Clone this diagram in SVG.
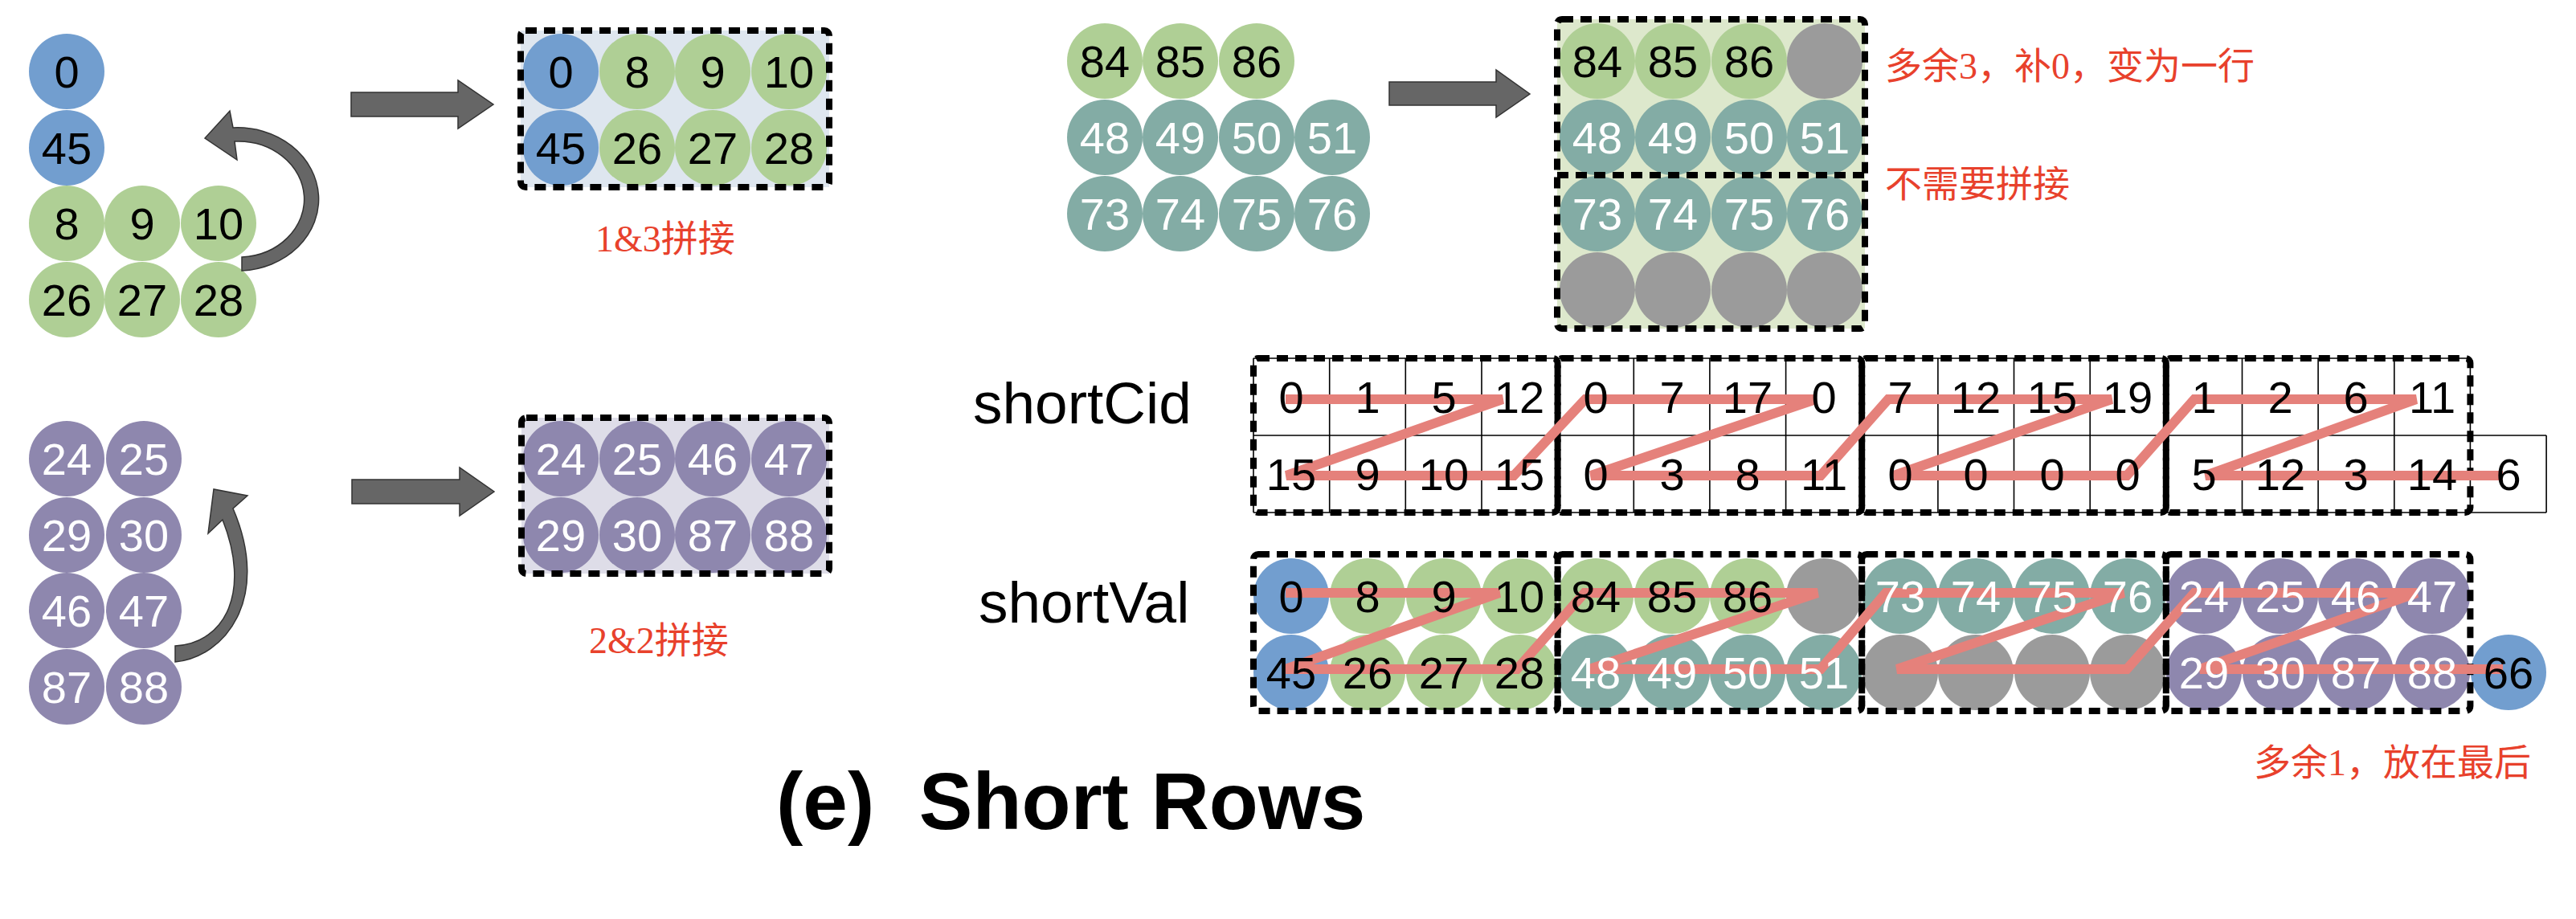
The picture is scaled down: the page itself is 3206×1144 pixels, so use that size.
<svg xmlns="http://www.w3.org/2000/svg" width="3206" height="1144" viewBox="0 0 3206 1144">
<style>
.blue{fill:#729ecf}.green{fill:#afcf95}.teal{fill:#83aca5}.purple{fill:#8e87ae}.gray{fill:#9b9b9b}
text{font-family:"Liberation Sans",Arial,sans-serif}
.n{font-size:56px;text-anchor:middle;fill:#000}
.w{fill:#fff}
.dash{fill:none;stroke:#000;stroke-width:8;stroke-dasharray:14 9}
.grid{stroke:#000;stroke-width:1.6;fill:none}
.zig{fill:none;stroke:#e5817b;stroke-width:12;stroke-linejoin:miter;stroke-miterlimit:3}
.big{fill:#666;stroke:#333;stroke-width:1.5}
.red{font-family:"Liberation Serif","Noto Sans CJK SC",serif;font-size:46px;fill:#e8412c}
.lbl{font-size:73px;fill:#000}
</style>

<!-- source 1&3 -->
<g id="src-13">
<circle class="blue" cx="83" cy="89" r="47"/><circle class="blue" cx="83" cy="184" r="47"/>
<circle class="green" cx="83" cy="278" r="47"/><circle class="green" cx="177" cy="278" r="47"/><circle class="green" cx="272" cy="278" r="47"/>
<circle class="green" cx="83" cy="373" r="47"/><circle class="green" cx="177" cy="373" r="47"/><circle class="green" cx="272" cy="373" r="47"/>
<text class="n" x="83" y="109">0</text><text class="n" x="83" y="204">45</text>
<text class="n" x="83" y="298">8</text><text class="n" x="177" y="298">9</text><text class="n" x="272" y="298">10</text>
<text class="n" x="83" y="393">26</text><text class="n" x="177" y="393">27</text><text class="n" x="272" y="393">28</text>
</g>

<g id="merged-13">
<rect x="648" y="38" width="384" height="195" fill="#dee6ef"/>
<circle class="blue" cx="698" cy="89" r="47"/><circle class="green" cx="793" cy="89" r="47"/><circle class="green" cx="887" cy="89" r="47"/><circle class="green" cx="982" cy="89" r="47"/>
<circle class="blue" cx="698" cy="184" r="47"/><circle class="green" cx="793" cy="184" r="47"/><circle class="green" cx="887" cy="184" r="47"/><circle class="green" cx="982" cy="184" r="47"/>
<text class="n" x="698" y="109">0</text><text class="n" x="793" y="109">8</text><text class="n" x="887" y="109">9</text><text class="n" x="982" y="109">10</text>
<text class="n" x="698" y="204">45</text><text class="n" x="793" y="204">26</text><text class="n" x="887" y="204">27</text><text class="n" x="982" y="204">28</text>
<rect class="dash" x="648" y="38" width="384" height="195" rx="6"/>
<text class="red" x="741" y="313">1&amp;3拼接</text>
</g>

<!-- source 2&2 -->
<g id="src-22">
<circle class="purple" cx="83" cy="571" r="47"/><circle class="purple" cx="179" cy="571" r="47"/>
<circle class="purple" cx="83" cy="666" r="47"/><circle class="purple" cx="179" cy="666" r="47"/>
<circle class="purple" cx="83" cy="760" r="47"/><circle class="purple" cx="179" cy="760" r="47"/>
<circle class="purple" cx="83" cy="855" r="47"/><circle class="purple" cx="179" cy="855" r="47"/>
<text class="n w" x="83" y="591">24</text><text class="n w" x="179" y="591">25</text>
<text class="n w" x="83" y="686">29</text><text class="n w" x="179" y="686">30</text>
<text class="n w" x="83" y="780">46</text><text class="n w" x="179" y="780">47</text>
<text class="n w" x="83" y="875">87</text><text class="n w" x="179" y="875">88</text>
</g>

<g id="merged-22">
<rect x="649" y="520" width="383" height="194" fill="#dedde8"/>
<circle class="purple" cx="698" cy="571" r="47"/><circle class="purple" cx="793" cy="571" r="47"/><circle class="purple" cx="887" cy="571" r="47"/><circle class="purple" cx="982" cy="571" r="47"/>
<circle class="purple" cx="698" cy="666" r="47"/><circle class="purple" cx="793" cy="666" r="47"/><circle class="purple" cx="887" cy="666" r="47"/><circle class="purple" cx="982" cy="666" r="47"/>
<text class="n w" x="698" y="591">24</text><text class="n w" x="793" y="591">25</text><text class="n w" x="887" y="591">46</text><text class="n w" x="982" y="591">47</text>
<text class="n w" x="698" y="686">29</text><text class="n w" x="793" y="686">30</text><text class="n w" x="887" y="686">87</text><text class="n w" x="982" y="686">88</text>
<rect class="dash" x="649" y="520" width="383" height="194" rx="6"/>
<text class="red" x="733" y="813">2&amp;2拼接</text>
</g>

<!-- source short rows -->
<g id="src-short">
<circle class="green" cx="1375" cy="76" r="47"/><circle class="green" cx="1469" cy="76" r="47"/><circle class="green" cx="1564" cy="76" r="47"/>
<circle class="teal" cx="1375" cy="171" r="47"/><circle class="teal" cx="1469" cy="171" r="47"/><circle class="teal" cx="1564" cy="171" r="47"/><circle class="teal" cx="1658" cy="171" r="47"/>
<circle class="teal" cx="1375" cy="266" r="47"/><circle class="teal" cx="1469" cy="266" r="47"/><circle class="teal" cx="1564" cy="266" r="47"/><circle class="teal" cx="1658" cy="266" r="47"/>
<text class="n" x="1375" y="96">84</text><text class="n" x="1469" y="96">85</text><text class="n" x="1564" y="96">86</text>
<text class="n w" x="1375" y="191">48</text><text class="n w" x="1469" y="191">49</text><text class="n w" x="1564" y="191">50</text><text class="n w" x="1658" y="191">51</text>
<text class="n w" x="1375" y="286">73</text><text class="n w" x="1469" y="286">74</text><text class="n w" x="1564" y="286">75</text><text class="n w" x="1658" y="286">76</text>
</g>

<g id="padded">
<rect x="1938" y="24" width="383" height="385" fill="#dde8cc"/>
<circle class="green" cx="1988" cy="76" r="47"/><circle class="green" cx="2082" cy="76" r="47"/><circle class="green" cx="2177" cy="76" r="47"/><circle class="gray" cx="2271" cy="76" r="47"/>
<circle class="teal" cx="1988" cy="171" r="47"/><circle class="teal" cx="2082" cy="171" r="47"/><circle class="teal" cx="2177" cy="171" r="47"/><circle class="teal" cx="2271" cy="171" r="47"/>
<circle class="teal" cx="1988" cy="266" r="47"/><circle class="teal" cx="2082" cy="266" r="47"/><circle class="teal" cx="2177" cy="266" r="47"/><circle class="teal" cx="2271" cy="266" r="47"/>
<circle class="gray" cx="1988" cy="361" r="47"/><circle class="gray" cx="2082" cy="361" r="47"/><circle class="gray" cx="2177" cy="361" r="47"/><circle class="gray" cx="2271" cy="361" r="47"/>
<text class="n" x="1988" y="96">84</text><text class="n" x="2082" y="96">85</text><text class="n" x="2177" y="96">86</text>
<text class="n w" x="1988" y="191">48</text><text class="n w" x="2082" y="191">49</text><text class="n w" x="2177" y="191">50</text><text class="n w" x="2271" y="191">51</text>
<text class="n w" x="1988" y="286">73</text><text class="n w" x="2082" y="286">74</text><text class="n w" x="2177" y="286">75</text><text class="n w" x="2271" y="286">76</text>
<rect class="dash" x="1938" y="24" width="383" height="385" rx="6"/>
<line class="dash" x1="1938" y1="218" x2="2321" y2="218"/>
<text class="red" x="2346" y="98">多余3，补0，变为一行</text>
<text class="red" x="2346" y="245">不需要拼接</text>
</g>

<!-- shortCid table grid -->
<g id="shortCid">
<text class="lbl" x="1211" y="527">shortCid</text>
<path class="grid" d="M1560 446H3074.4M1560 542H3169.1M1560 638H3169.1
M1560 446V638M1654.7 446V638M1749.3 446V638M1844 446V638M1938.6 446V638M2033.3 446V638M2127.9 446V638M2222.6 446V638
M2317.2 446V638M2411.9 446V638M2506.5 446V638M2601.2 446V638M2695.8 446V638M2790.5 446V638M2885.1 446V638M2979.8 446V638M3074.4 446V638M3169.1 542V638"/>
<rect class="dash" x="1560" y="446" width="378.6" height="192" rx="6"/>
<rect class="dash" x="1938.6" y="446" width="378.6" height="192" rx="6"/>
<rect class="dash" x="2317.2" y="446" width="378.6" height="192" rx="6"/>
<rect class="dash" x="2695.8" y="446" width="378.6" height="192" rx="6"/>
</g>

<!-- shortVal cells -->
<g id="shortVal">
<text class="lbl" x="1218" y="775">shortVal</text>
<circle class="blue" cx="1607" cy="742" r="47"/><circle class="green" cx="1702" cy="742" r="47"/><circle class="green" cx="1797" cy="742" r="47"/><circle class="green" cx="1891" cy="742" r="47"/>
<circle class="blue" cx="1607" cy="837" r="47"/><circle class="green" cx="1702" cy="837" r="47"/><circle class="green" cx="1797" cy="837" r="47"/><circle class="green" cx="1891" cy="837" r="47"/>
<circle class="green" cx="1986" cy="742" r="47"/><circle class="green" cx="2081" cy="742" r="47"/><circle class="green" cx="2175" cy="742" r="47"/><circle class="gray" cx="2270" cy="742" r="47"/>
<circle class="teal" cx="1986" cy="837" r="47"/><circle class="teal" cx="2081" cy="837" r="47"/><circle class="teal" cx="2175" cy="837" r="47"/><circle class="teal" cx="2270" cy="837" r="47"/>
<circle class="teal" cx="2365" cy="742" r="47"/><circle class="teal" cx="2459" cy="742" r="47"/><circle class="teal" cx="2554" cy="742" r="47"/><circle class="teal" cx="2648" cy="742" r="47"/>
<circle class="gray" cx="2365" cy="837" r="47"/><circle class="gray" cx="2459" cy="837" r="47"/><circle class="gray" cx="2554" cy="837" r="47"/><circle class="gray" cx="2648" cy="837" r="47"/>
<circle class="purple" cx="2743" cy="742" r="47"/><circle class="purple" cx="2838" cy="742" r="47"/><circle class="purple" cx="2932" cy="742" r="47"/><circle class="purple" cx="3027" cy="742" r="47"/>
<circle class="purple" cx="2743" cy="837" r="47"/><circle class="purple" cx="2838" cy="837" r="47"/><circle class="purple" cx="2932" cy="837" r="47"/><circle class="purple" cx="3027" cy="837" r="47"/>
<circle class="blue" cx="3122" cy="837" r="47"/>
<rect class="dash" x="1560" y="690" width="378.6" height="195" rx="6"/>
<rect class="dash" x="1938.6" y="690" width="378.6" height="195" rx="6"/>
<rect class="dash" x="2317.2" y="690" width="378.6" height="195" rx="6"/>
<rect class="dash" x="2695.8" y="690" width="378.6" height="195" rx="6"/>
<text class="red" x="2805" y="965">多余1，放在最后</text>
</g>

<g id="connectors">
<path class="big" d="M437 115H570V100L614 130L570 160V145H437Z"/>
<path class="big" d="M438 597H572V582L615 612L572 642V627H438Z"/>
<path class="big" d="M1729 102H1862V87L1904 117L1862 146V131H1729Z"/>
<path class="big" d="M301 337A101 89 0 0 0 290 159L286 138L255 172L295 199L292 176A82 72 0 0 1 301 320Z"/>
<path class="big" d="M218 824C280 818 338 745 290 633L308 617L266 609L259 664L277 647C312 735 282 800 218 804Z"/>
<polyline class="zig" points="1600,497 1870,497 1601,592 1884,592 1973,497 2260,497 1980,592 2266,592 2350,497 2628,497 2357,592 2647,592 2731,497 3007,497 2745,592 3115,592"/>
<polyline class="zig" points="1600,738 1866,738 1600,833 1888,833 1972,738 2262,738 1978,833 2266,833 2347,738 2643,738 2361,833 2647,833 2731,738 3008,738 2738,833 3115,833"/>
</g>

<g id="shortCid-values">
<text class="n" x="1607" y="514">0</text><text class="n" x="1702" y="514">1</text><text class="n" x="1797" y="514">5</text><text class="n" x="1891" y="514">12</text>
<text class="n" x="1986" y="514">0</text><text class="n" x="2081" y="514">7</text><text class="n" x="2175" y="514">17</text><text class="n" x="2270" y="514">0</text>
<text class="n" x="2365" y="514">7</text><text class="n" x="2459" y="514">12</text><text class="n" x="2554" y="514">15</text><text class="n" x="2648" y="514">19</text>
<text class="n" x="2743" y="514">1</text><text class="n" x="2838" y="514">2</text><text class="n" x="2932" y="514">6</text><text class="n" x="3027" y="514">11</text>
<text class="n" x="1607" y="610">15</text><text class="n" x="1702" y="610">9</text><text class="n" x="1797" y="610">10</text><text class="n" x="1891" y="610">15</text>
<text class="n" x="1986" y="610">0</text><text class="n" x="2081" y="610">3</text><text class="n" x="2175" y="610">8</text><text class="n" x="2270" y="610">11</text>
<text class="n" x="2365" y="610">0</text><text class="n" x="2459" y="610">0</text><text class="n" x="2554" y="610">0</text><text class="n" x="2648" y="610">0</text>
<text class="n" x="2743" y="610">5</text><text class="n" x="2838" y="610">12</text><text class="n" x="2932" y="610">3</text><text class="n" x="3027" y="610">14</text>
<text class="n" x="3122" y="610">6</text>
</g>

<g id="shortVal-values">
<text class="n" x="1607" y="762">0</text><text class="n" x="1702" y="762">8</text><text class="n" x="1797" y="762">9</text><text class="n" x="1891" y="762">10</text>
<text class="n" x="1607" y="857">45</text><text class="n" x="1702" y="857">26</text><text class="n" x="1797" y="857">27</text><text class="n" x="1891" y="857">28</text>
<text class="n" x="1986" y="762">84</text><text class="n" x="2081" y="762">85</text><text class="n" x="2175" y="762">86</text>
<text class="n w" x="1986" y="857">48</text><text class="n w" x="2081" y="857">49</text><text class="n w" x="2175" y="857">50</text><text class="n w" x="2270" y="857">51</text>
<text class="n w" x="2365" y="762">73</text><text class="n w" x="2459" y="762">74</text><text class="n w" x="2554" y="762">75</text><text class="n w" x="2648" y="762">76</text>
<text class="n w" x="2743" y="762">24</text><text class="n w" x="2838" y="762">25</text><text class="n w" x="2932" y="762">46</text><text class="n w" x="3027" y="762">47</text>
<text class="n w" x="2743" y="857">29</text><text class="n w" x="2838" y="857">30</text><text class="n w" x="2932" y="857">87</text><text class="n w" x="3027" y="857">88</text>
<text class="n" x="3122" y="857">66</text>
</g>

<g id="title">
<text x="966" y="1032" xml:space="preserve" style="font-size:100px;font-weight:bold;fill:#000">(e)  Short Rows</text>
</g>
</svg>
